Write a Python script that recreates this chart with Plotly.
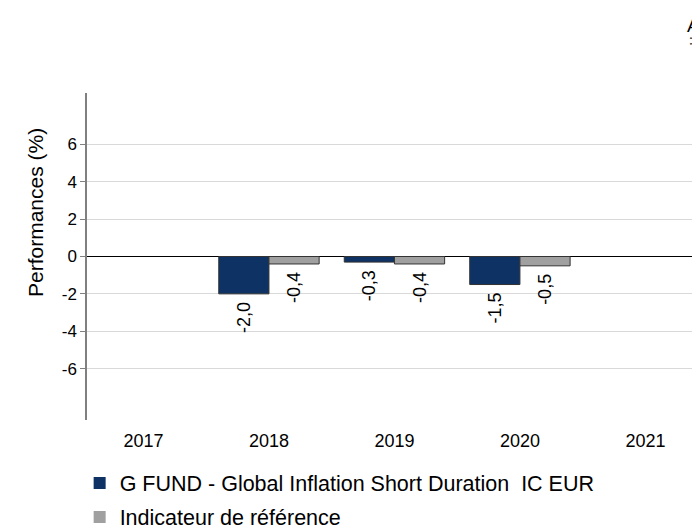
import plotly.graph_objects as go

categories = ["2017", "2018", "2019", "2020", "2021"]
fund_values = [None, -2.0, -0.3, -1.5, None]
bench_values = [None, -0.4, -0.4, -0.5, None]
fund_name = "G FUND - Global Inflation Short Duration  IC EUR"
bench_name = "Indicateur de référence"
y_title = "Performances (%)"
y_ticks = [-6, -4, -2, 0, 2, 4, 6]
y_tick_text = ["-6", "-4", "-2", "0", "2", "4", "6"]

NAVY = "#0E3263"
GREY = "#A0A0A0"
FONT = "Liberation Sans, Arial, sans-serif"

def fmt(v):
    return None if v is None else f"{v:.1f}".replace(".", ",") + "\u00a0"

fig = go.Figure()
fig.add_trace(go.Bar(
    x=categories, y=fund_values, name=fund_name, showlegend=False,
    marker=dict(color=NAVY, line=dict(color="#333333", width=1)),
    text=[fmt(v) for v in fund_values], textposition="outside", textangle=-90,
    textfont=dict(size=18, color="#000000", family=FONT), cliponaxis=False,
))
fig.add_trace(go.Bar(
    x=categories, y=bench_values, name=bench_name, showlegend=False,
    marker=dict(color=GREY, line=dict(color="#333333", width=1)),
    text=[fmt(v) for v in bench_values], textposition="outside", textangle=-90,
    textfont=dict(size=18, color="#000000", family=FONT), cliponaxis=False,
))
# legend proxies, one legend each
fig.add_trace(go.Scatter(
    x=[None], y=[None], mode="markers", name=fund_name, legend="legend",
    marker=dict(symbol="square", size=21, color=NAVY),
))
fig.add_trace(go.Scatter(
    x=[None], y=[None], mode="markers", name=bench_name, legend="legend2",
    marker=dict(symbol="square", size=21, color=GREY),
))

# page has an 8px body margin: figure coords = page coords - 8
PW = 613.0
PH = 327.0
LEFT = 79.0
BOTTOM = 412.0
leg_common = dict(
    orientation="v", xanchor="left", yanchor="middle",
    font=dict(size=21.5, color="#000000", family=FONT),
    itemsizing="constant", bgcolor="rgba(0,0,0,0)",
)

fig.update_layout(
    width=700, height=527,
    margin=dict(l=79, r=8, t=85, b=115, autoexpand=False),
    paper_bgcolor="white", plot_bgcolor="white",
    barmode="group", bargap=0.2, bargroupgap=0,
    font=dict(family=FONT, size=18, color="#000000"),
    showlegend=True,
    legend=dict(x=-0.012, y=(BOTTOM - 475) / PH, **leg_common),
    legend2=dict(x=-0.012, y=(BOTTOM - 509) / PH, **leg_common),
    xaxis=dict(
        type="category", range=[-0.45, 4.435], automargin=False,
        showline=False, showgrid=False, zeroline=False,
        ticks="outside", ticklen=4, tickcolor="rgba(0,0,0,0)",
        tickfont=dict(size=18, color="#000000", family=FONT),
    ),
    yaxis=dict(
        range=[-8.75, 8.75], tickvals=y_ticks, ticktext=y_tick_text, automargin=False,
        showline=True, linecolor="#808080", linewidth=1.5,
        ticks="outside", ticklen=5, tickcolor="#808080",
        showgrid=True, gridcolor="#D9D9D9", gridwidth=1,
        zeroline=True, zerolinecolor="#000000", zerolinewidth=1,
        tickfont=dict(size=17, color="#000000", family=FONT),
    ),
    annotations=[
        dict(text=y_title, xref="paper", yref="paper",
             x=(27 - LEFT) / PW, y=(BOTTOM - 204) / PH, textangle=-90,
             xanchor="center", yanchor="middle", showarrow=False,
             font=dict(size=21, color="#000000", family=FONT)),
        dict(text="A", xref="paper", yref="paper", x=(685 - LEFT) / PW, y=(BOTTOM - 17) / PH,
             xanchor="center", yanchor="middle", showarrow=False,
             font=dict(size=19, color="#000000", family=FONT)),
        dict(text="‡", xref="paper", yref="paper", x=(685 - LEFT) / PW, y=(BOTTOM - 33) / PH,
             xanchor="center", yanchor="middle", showarrow=False,
             font=dict(size=15, color="#000000", family=FONT)),
    ],
)

fig.write_html("out.html")
